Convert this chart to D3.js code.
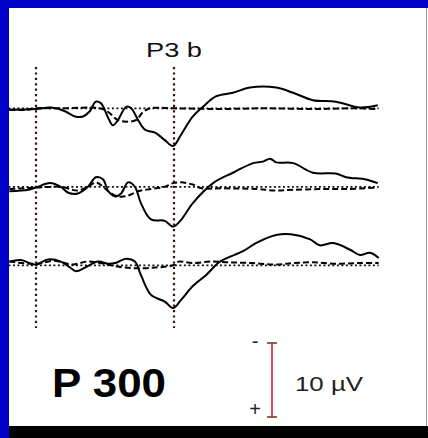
<!DOCTYPE html>
<html>
    <head>
        <script src="https://cdnjs.cloudflare.com/ajax/libs/d3/7.8.5/d3.min.js" type="text/JavaScript"></script>
    </head>
    <style>
body {
    margin: 0;
    background-color: #0000c8;
}
#viz {
    width: 428px;
    height: 438px;
}
    </style>
    <body>
        <div id="viz">
            <svg style="width: 428px; height: 438px;"></svg>
        </div>
        <script>
            // time in ms after stimulus, amplitude in microvolts (positive plotted downward)
            var channels = ["Fz", "Cz", "Pz"];
            var markerTimes = [0, 300];

            var solidTime1 = [-58, 0, 33, 63, 85, 102, 117, 130, 141, 157, 167, 178, 196, 207, 222, 237, 259, 280, 298, 315, 341, 363, 391, 428, 465, 522, 559, 602, 652, 704, 743];
            var solidAmp1  = [0.2, 0.1, -0.1, 0.4, 1.1, 1.1, 0.4, -0.9, -0.7, 1.3, 2.3, 1.6, -0.2, 0.0, 1.6, 2.9, 3.3, 4.3, 5.1, 3.6, 1.1, -0.2, -1.6, -2.1, -2.8, -2.8, -2.1, -1.1, -0.9, -0.1, -0.4];
            var dashTime1  = [-58, -20, 0, 60, 139, 157, 178, 200, 217, 233, 248, 298, 400, 500, 600, 700, 743];
            var dashAmp1   = [0.2, 0.2, 0.0, 0.0, 0.0, 0.5, 1.6, 1.8, 1.6, 0.5, 0.0, 0.0, 0.1, 0.0, 0.1, 0.0, 0.1];

            var solidTime2 = [-58, -17, 0, 30, 54, 70, 91, 113, 130, 146, 157, 172, 185, 200, 215, 228, 250, 280, 298, 315, 341, 385, 428, 472, 493, 509, 522, 559, 602, 652, 674, 717, 743];
            var solidAmp2  = [0.6, 0.4, 0.1, -0.5, 0.0, 0.8, 0.9, 0.0, -1.3, -1.0, 0.6, 1.3, 0.9, -0.6, 0.0, 2.2, 4.4, 4.6, 5.4, 4.5, 2.2, -0.5, -1.9, -3.2, -3.4, -3.8, -3.3, -3.2, -1.9, -1.8, -1.3, -1.0, -0.5];
            var dashTime2  = [-58, 0, 54, 91, 113, 130, 146, 157, 178, 200, 222, 250, 280, 298, 315, 341, 360, 400, 480, 520, 560, 620, 680, 743];
            var dashAmp2   = [0.3, 0.1, 0.0, 0.5, 0.0, -0.6, 0.0, 0.6, 1.3, 1.2, 0.6, 0.3, 0.0, -0.5, -0.6, -0.3, 0.2, 0.2, 0.3, 0.5, 0.4, 0.3, 0.3, 0.1];

            var solidTime3 = [-58, -33, 0, 26, 54, 74, 87, 107, 135, 157, 172, 196, 215, 228, 250, 280, 298, 315, 341, 370, 400, 450, 478, 522, 554, 596, 617, 646, 683, 704, 726, 745];
            var solidAmp3  = [-0.5, -0.7, -0.1, -0.8, -0.5, 0.3, 0.8, 0.3, -0.5, -0.2, -0.3, -0.9, -0.5, 1.3, 4.0, 4.9, 5.8, 4.7, 2.8, 1.3, -0.5, -1.9, -3.0, -4.1, -4.2, -3.5, -2.7, -3.0, -2.1, -1.4, -1.7, -1.0];
            var dashTime3  = [-58, 0, 40, 80, 110, 140, 180, 220, 260, 298, 310, 340, 380, 420, 470, 520, 560, 600, 650, 700, 745];
            var dashAmp3   = [-0.5, -0.2, -0.6, -0.1, -0.5, -0.3, 0.2, 0.4, 0.3, 0.0, -0.5, -0.3, -0.5, -0.4, -0.3, -0.1, -0.3, -0.4, -0.2, -0.3, -0.3];

            var solidTimes = [solidTime1, solidTime2, solidTime3];
            var solidAmps = [solidAmp1, solidAmp2, solidAmp3];
            var dashTimes = [dashTime1, dashTime2, dashTime3];
            var dashAmps = [dashAmp1, dashAmp2, dashAmp3];

            var calibration = 10;

            const svg = d3.select("svg");

            // frame: blue border, white panel, black strip at the bottom
            svg.append("rect").attr("x", 9).attr("y", 8).attr("width", 419).attr("height", 418).style("fill", "#ffffff");
            svg.append("line").attr("x1", 426.5).attr("x2", 426.5).attr("y1", 8).attr("y2", 426).style("stroke", "#9a9a9a").style("stroke-width", 1);
            svg.append("rect").attr("x", 9).attr("y", 426).attr("width", 419).attr("height", 12).style("fill", "#000000");

            const x = d3.scaleLinear().domain([-60, 745]).range([8.4, 378.7]);
            const row = d3.scalePoint().domain(channels).range([108.3, 265.3]);
            const amp = d3.scaleLinear().domain([0, calibration]).range([0, 74]);

            // stimulus onset and P3b latency markers
            svg.selectAll("line.marker").data(markerTimes).enter().append("line")
                .attr("class", "marker")
                .attr("x1", (d) => x(d)).attr("x2", (d) => x(d))
                .attr("y1", 67).attr("y2", 328)
                .style("stroke", "#3a1208").style("stroke-width", 2.2).style("stroke-dasharray", "2.2,3.2");

            svg.append("text").text("P3 b")
                .attr("x", x(300)).attr("y", 57).attr("text-anchor", "middle")
                .attr("textLength", 56).attr("lengthAdjust", "spacingAndGlyphs")
                .style("font-family", "Liberation Sans, Arial, sans-serif").style("font-size", "21px").style("fill", "#111");

            channels.forEach(function (ch, i) {
                var base = row(ch);
                var line = d3.line().x((d) => x(d[0])).y((d) => base + amp(d[1])).curve(d3.curveCatmullRom);

                svg.append("line")
                    .attr("x1", x(-60)).attr("x2", x(745))
                    .attr("y1", base).attr("y2", base)
                    .style("stroke", "#111").style("stroke-width", 1.8).style("stroke-dasharray", "2,2.5");

                svg.append("path")
                    .attr("d", line(d3.zip(dashTimes[i], dashAmps[i])))
                    .style("fill", "none").style("stroke", "#000").style("stroke-width", 2).style("stroke-dasharray", "6,3");

                svg.append("path")
                    .attr("d", line(d3.zip(solidTimes[i], solidAmps[i])))
                    .style("fill", "none").style("stroke", "#000").style("stroke-width", 2);
            });

            // calibration bar, negative up
            var barX = 272, barTop = 343;
            svg.append("line").attr("x1", barX).attr("x2", barX).attr("y1", barTop).attr("y2", barTop + amp(calibration))
                .style("stroke", "#c02838").style("stroke-width", 1.6);
            svg.selectAll("line.cap").data([0, calibration]).enter().append("line")
                .attr("class", "cap")
                .attr("x1", barX - 5).attr("x2", barX + 5)
                .attr("y1", (d) => barTop + amp(d)).attr("y2", (d) => barTop + amp(d))
                .style("stroke", "#7a3a22").style("stroke-width", 1.6);

            svg.append("text").text("-").attr("x", 255).attr("y", 348).attr("text-anchor", "middle")
                .style("font-family", "Liberation Sans, Arial, sans-serif").style("font-size", "20px").style("fill", "#222");
            svg.append("text").text("+").attr("x", 255).attr("y", 416).attr("text-anchor", "middle")
                .style("font-family", "Liberation Sans, Arial, sans-serif").style("font-size", "20px").style("fill", "#222");
            svg.append("text").text(calibration + " \u00b5V").attr("x", 295).attr("y", 391)
                .attr("textLength", 68).attr("lengthAdjust", "spacingAndGlyphs")
                .style("font-family", "Liberation Sans, Arial, sans-serif").style("font-size", "20px").style("fill", "#222");

            svg.append("text").text("P 300").attr("x", 52).attr("y", 397)
                .attr("textLength", 114).attr("lengthAdjust", "spacingAndGlyphs")
                .style("font-family", "Liberation Sans, Arial, sans-serif").style("font-size", "40px").style("font-weight", "bold").style("fill", "#000");
        </script>
    </body>
</html>
